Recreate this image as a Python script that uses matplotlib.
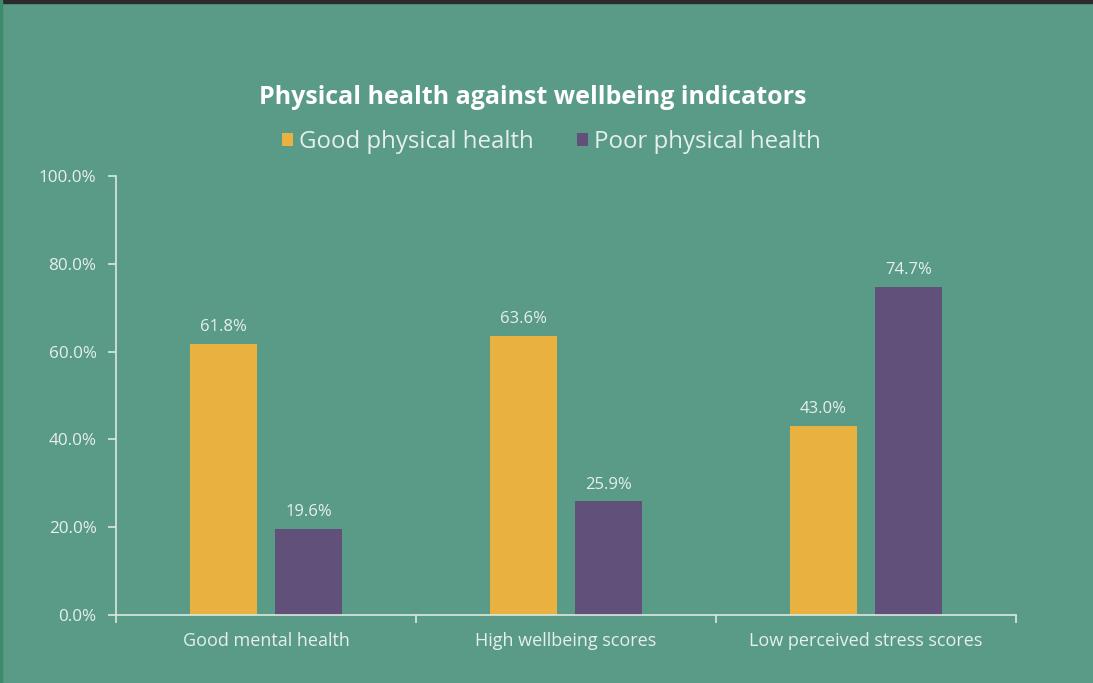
import numpy as np
import matplotlib.pyplot as plt
from matplotlib.patches import Rectangle

categories = ["Good mental health", "High wellbeing scores", "Low perceived stress scores"]
good_health = [61.8, 63.6, 43.0]
poor_health = [19.6, 25.9, 74.7]
series_names = ["Good physical health", "Poor physical health"]

BG = "#5a9b87"
YELLOW = "#e9b13f"
PURPLE = "#60507a"
TEXT = "#e6efeb"
AXIS = "#dbe8e2"

plt.rcParams['font.family'] = ['Open Sans', 'DejaVu Sans']

fig = plt.figure(figsize=(10.93, 6.83), dpi=100, facecolor=BG)
ax = fig.add_axes([116 / 1093, 1 - 615 / 683, 900 / 1093, 439 / 683])
ax.set_facecolor(BG)

x = np.arange(len(categories))
w = 0.223
off = 0.142
b1 = ax.bar(x - off, good_health, w, color=YELLOW, label=series_names[0])
b2 = ax.bar(x + off, poor_health, w, color=PURPLE, label=series_names[1])

for bars, vals in [(b1, good_health), (b2, poor_health)]:
    for rect, v in zip(bars, vals):
        ax.text(rect.get_x() + rect.get_width() / 2, v + 2.0, f"{v:.1f}%",
                ha="center", va="bottom", color=TEXT, fontsize=12)

ax.set_xlim(-0.5, 2.5)
ax.set_ylim(0, 100)
ax.set_yticks(np.arange(0, 101, 20))
ax.set_yticklabels([f"{t:.1f}%" for t in np.arange(0, 101, 20)])
ax.set_xticks(x)
ax.set_xticklabels(categories)
ax.tick_params(axis="x", length=0, pad=12, labelsize=13, labelcolor=TEXT)
ax.set_xticks(np.arange(-0.5, 2.6, 1), minor=True)
ax.tick_params(axis="x", which="minor", length=6, color=AXIS, width=1.2)
ax.tick_params(axis="y", length=6, color=AXIS, width=1.2, labelsize=12.3, labelcolor=TEXT, pad=8)

for s in ["top", "right"]:
    ax.spines[s].set_visible(False)
for s in ["left", "bottom"]:
    ax.spines[s].set_color(AXIS)
    ax.spines[s].set_linewidth(1.2)

fig.text(533 / 1093, 1 - 97 / 683, "Physical health against wellbeing indicators",
         ha="center", va="center", color="white", fontsize=18, fontweight="bold")

leg = fig.legend(handles=[b1, b2], loc="center", bbox_to_anchor=(551 / 1093, 1 - 142 / 683),
                 ncol=2, frameon=False, fontsize=17.3, labelcolor=TEXT,
                 handlelength=0.46, handleheight=0.46, handletextpad=0.25, columnspacing=1.8)

# frame decorations
fig.patches.append(Rectangle((0, 1 - 3 / 683), 1, 3 / 683, transform=fig.transFigure,
                             color="#2b2b2b", zorder=10))
fig.patches.append(Rectangle((0, 0), 2 / 1093, 1, transform=fig.transFigure,
                             color="#3e8a6c", zorder=10))

fig.savefig("out.png", dpi=100, facecolor=BG)
